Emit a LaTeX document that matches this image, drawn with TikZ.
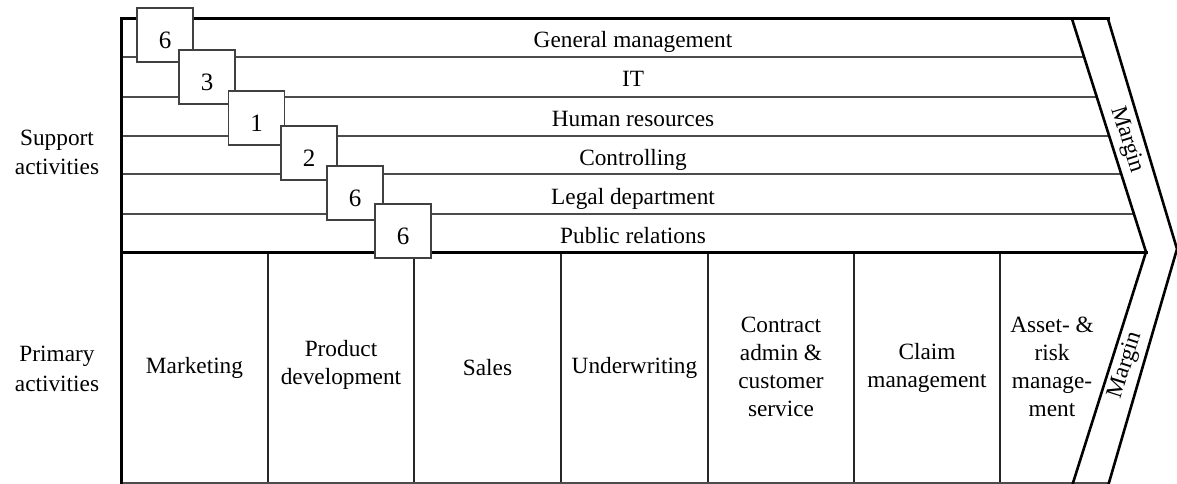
\documentclass[tikz,border=0pt]{standalone}
\usepackage{fontspec}
\setmainfont{Liberation Serif}
\begin{document}
\begin{tikzpicture}[x=1pt,y=-1pt,
  frameline/.style={line width=3pt, line join=miter, line cap=rect},
  thinrule/.style={line width=1.2pt, draw=black!70},
  colrule/.style={line width=1.4pt, draw=black!85},
  chev/.style={line width=2.6pt, line join=miter},
  numbox/.style={draw=black!75, line width=1.2pt, fill=white, minimum width=56pt, minimum height=54pt, inner sep=0pt, text height=27pt, text depth=0pt, font=\fontsize{25}{28}\selectfont},
  rowlabel/.style={inner sep=0pt, text height=20pt, text depth=0pt, font=\fontsize{23.3}{28}\selectfont},
  collabel/.style={inner sep=0pt, align=center, font=\fontsize{23.3}{28}\selectfont},
  sidelabel/.style={inner sep=0pt, align=center, font=\fontsize{23.3}{29.5}\selectfont},
  marginlabel/.style={inner sep=0pt, font=\fontsize{23.3}{28}\selectfont}]
\useasboundingbox (0,0) rectangle (1177,484);

% chevron corner points
\coordinate (itop) at (1072,19);
\coordinate (itip) at (1146,252);
\coordinate (ibot) at (1072,486);
\coordinate (otop) at (1108,19);
\coordinate (otip) at (1177,249);
\coordinate (obot) at (1108,486);
\coordinate (tl) at (121,19);
\coordinate (ml) at (121,252);
\coordinate (bl) at (121,486);

% support rows
\begin{scope}
  \clip (tl) -- (itop) -- (itip) -- (ml) -- cycle;
  \foreach \y in {57,97,136,174,214} \draw[thinrule] (121,\y) -- (1200,\y);
\end{scope}

% primary columns
\foreach \x in {268,414,561,708,854,1000} \draw[colrule] (\x,252) -- (\x,486);
\draw[thinrule] (121,483) -- (1110,483);

% frame
\draw[frameline] (bl) -- (tl) -- (otop);
\draw[frameline] (ml) -- (itip);
\draw[chev] (itop) -- (itip) -- (ibot);
\draw[chev] (otop) -- (otip) -- (obot);

% support labels
\node[rowlabel] (gm) at (633,38) {General management};
\node[rowlabel] (it) at (633,77) {IT};
\node[rowlabel] (hr) at (633,116.5) {Human resources};
\node[rowlabel] (co) at (633,155) {Controlling};
\node[rowlabel] (ld) at (633,194) {Legal department};
\node[rowlabel] (pr) at (633,233) {Public relations};

% primary labels
\node[collabel] (mk) at (194.5,368) {Marketing};
\node[collabel] (pd) at (341,365) {Product\\development};
\node[collabel] (sa) at (487.5,368) {Sales};
\node[collabel] (uw) at (634.5,368) {Underwriting};
\node[collabel] (ca) at (781,367) {Contract\\admin \&\\customer\\service};
\node[collabel] (cm) at (927,367.5) {Claim\\management};
\node[collabel] (ar) at (1052,367) {Asset- \&\\risk\\manage-\\ment};

% side labels
\node[sidelabel] (sup) at (57,152.5) {Support\\activities};
\node[sidelabel] (pri) at (57,369) {Primary\\activities};

% margin labels
\node[marginlabel, rotate=-72.5] (m1) at (1127,140) {Margin};
\node[marginlabel, rotate=72.3] (m2) at (1126,365) {Margin};

% number boxes
\node[numbox] (b1) at (165,35) {6};
\node[numbox] (b2) at (207,77) {3};
\node[numbox] (b3) at (256.5,118) {1};
\node[numbox] (b4) at (309,153) {2};
\node[numbox] (b5) at (355,193) {6};
\node[numbox] (b6) at (403,231) {6};
\end{tikzpicture}
\end{document}
